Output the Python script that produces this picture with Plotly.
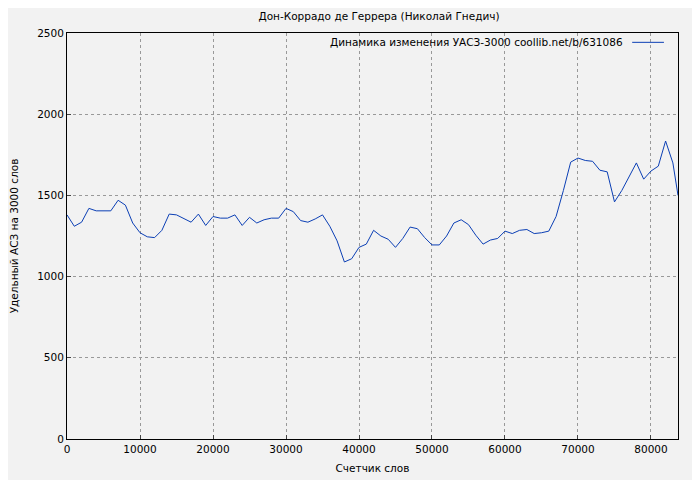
import plotly.graph_objects as go

words = [i*1000 for i in range(84)] + [83700]
uasz = [1380,1310,1335,1420,1405,1405,1405,1470,1440,1330,1270,1245,1240,1285,1385,1380,1360,1335,1385,1315,
        1370,1360,1360,1380,1315,1365,1330,1350,1360,1360,1420,1400,1345,1335,1355,1380,1310,1220,1090,1110,
        1180,1200,1285,1250,1230,1180,1235,1305,1295,1240,1195,1195,1250,1330,1350,1320,1255,1200,1225,1235,
        1280,1265,1285,1290,1265,1270,1280,1370,1530,1705,1730,1715,1710,1655,1645,1460,1530,1620,1700,1600,
        1650,1680,1835,1700,1500]
legend_text = "Динамика изменения УАСЗ-3000 coollib.net/b/631086"
line_color = "#0b3fb5"
fs = 10.5

fig = go.Figure(go.Scatter(x=words, y=uasz, mode="lines", line=dict(color=line_color, width=1),
                           name=legend_text, showlegend=False))
ax = dict(showgrid=True, gridcolor="#999", griddash="dot", gridwidth=1, zeroline=False, automargin=False,
          showline=True, linecolor="black", linewidth=1, mirror=True, ticks="inside", ticklen=4,
          tickfont=dict(size=fs))
fig.update_layout(
    width=700, height=480, paper_bgcolor="#f2f2f2", plot_bgcolor="#f2f2f2",
    font=dict(family="DejaVu Sans", size=fs, color="black"),
    margin=dict(l=59, r=30, t=25, b=49),
    title=dict(text="Дон-Коррадо де Геррера (Николай Гнедич)", x=0.53, y=0.99, xanchor="center", font=dict(size=fs)),
    xaxis=dict(ax, range=[0, 83700], tickvals=list(range(0, 90000, 10000)), tickformat="d",
               title=dict(text="Счетчик слов", standoff=11, font=dict(size=fs))),
    yaxis=dict(ax, range=[0, 2500], tickvals=list(range(0, 3000, 500)), tickformat="d",
               title=dict(text="Удельный АСЗ на 3000 слов", standoff=22, font=dict(size=fs))),
    annotations=[dict(text=legend_text, xref="paper", yref="paper", x=0.914, y=0.977,
                      xanchor="right", yanchor="middle", showarrow=False, font=dict(size=fs))],
    shapes=[dict(type="line", xref="paper", yref="paper", x0=0.925, x1=0.977, y0=0.977, y1=0.977,
                 line=dict(color=line_color, width=1))],
)
fig.write_html("out.html")
